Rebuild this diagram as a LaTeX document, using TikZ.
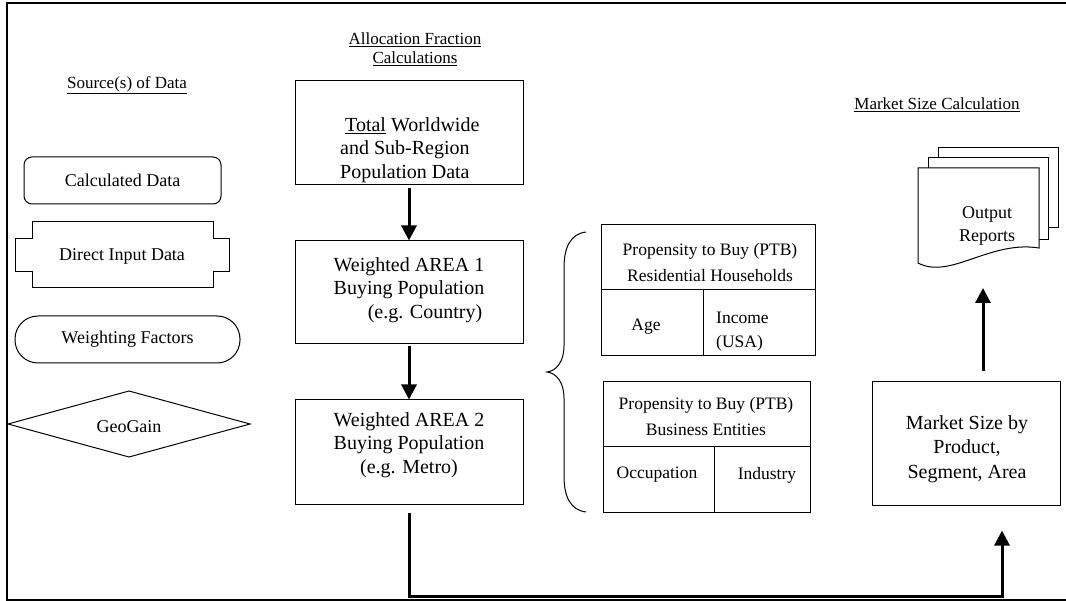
\documentclass[tikz,border=0pt]{standalone}
\usepackage{fontspec}
\setmainfont{Liberation Serif}
\usetikzlibrary{arrows.meta}
\begin{document}
\begin{tikzpicture}[x=1pt,y=-1pt,
  box/.style={draw, line width=1pt, inner sep=0pt},
  shape line/.style={draw, line width=1pt},
  txt/.style={inner sep=0pt, align=center},
  big/.style={font=\fontsize{20}{23.5}\selectfont},
  mid/.style={font=\fontsize{18}{23}\selectfont},
  ptbfont/.style={font=\fontsize{17.5}{26}\selectfont},
  hdr/.style={inner sep=0pt, align=center, font=\fontsize{17}{19}\selectfont},
  arr/.style={line width=3pt, line join=miter, -{Triangle[width=15pt,length=15pt]}}
]
\useasboundingbox (0,0) rectangle (1066,601);

% outer frame, open on the right
\draw[line width=2pt] (1066,3) -- (7,3) -- (7,600) -- (1066,600);

% column headers
\node[hdr] (hsrc) at (127,85) {\underline{Source(s) of Data}};
\node[hdr] (halloc) at (415,49) {\underline{Allocation Fraction}\\\underline{Calculations}};
\node[hdr] (hmarket) at (937,105) {\underline{Market Size Calculation}};

% legend of data sources
\node[box, rounded corners=8pt, minimum width=197pt, minimum height=47pt, mid] (calc) at (122.5,180.5) {Calculated Data};
\draw[line width=1pt] (32,222) -- (213,222) -- (213,239) -- (229,239) -- (229,272) -- (213,272)
  -- (213,288) -- (32,288) -- (32,272) -- (15,272) -- (15,239) -- (32,239) -- cycle;
\node[txt, mid] (direct) at (122,256) {Direct Input Data};
\node[box, rounded corners=23pt, minimum width=225pt, minimum height=47pt, mid] (weight) at (127.5,339.5) {Weighting Factors};
\draw[line width=1pt] (8,424) -- (129,391) -- (250,424) -- (129,457) -- cycle;
\node[txt, mid] (geo) at (129,427) {GeoGain};

% allocation fraction column
\node[box, minimum width=228pt, minimum height=104pt] (total) at (409,133) {};
\node[txt, big, anchor=west, align=left] (totaltxt) at (340,150) {\ \underline{Total} Worldwide\\and Sub-Region\\Population Data};

\node[box, minimum width=228pt, minimum height=103pt] (area1) at (409,292.5) {};
\node[txt, big] (area1txt) at (409,290) {Weighted AREA 1\\Buying Population\\\hspace*{1.6em}(e.g. Country)};

\node[box, minimum width=228pt, minimum height=104pt] (area2) at (409,452) {};
\node[txt, big] (area2txt) at (409,445) {Weighted AREA 2\\Buying Population\\(e.g. Metro)};

\draw[arr] ([yshift=-3pt]total.south) -- (area1.north);
\draw[arr] ([yshift=-2pt]area1.south) -- (area2.north);

% brace grouping the propensity tables
\draw[line width=1pt] (586,232) .. controls (570,234) and (564,248) .. (564,268) -- (564,346)
  .. controls (564,362) and (556,371) .. (547,372)
  .. controls (556,373) and (564,382) .. (564,398) -- (564,476)
  .. controls (564,496) and (570,510) .. (586,512);

% propensity to buy: residential households
\node[box, minimum width=214pt, minimum height=131pt] (ptbres) at (708,290.5) {};
\draw[line width=1pt] (601,290) -- (815,290);
\draw[line width=1pt] (703,290) -- (703,356);
\node[txt, ptbfont] (ptbrestxt) at (710,262.5) {Propensity to Buy (PTB)\\Residential Households};
\node[txt, ptbfont] (age) at (646,327) {Age};
\node[txt, ptbfont, anchor=west, align=left, font=\fontsize{17.5}{24}\selectfont] (income) at (716,332) {Income\\(USA)};

% propensity to buy: business entities
\node[box, minimum width=207pt, minimum height=130pt] (ptbbus) at (706.5,447) {};
\draw[line width=1pt] (603,447) -- (810,447);
\draw[line width=1pt] (714,447) -- (714,512);
\node[txt, ptbfont] (ptbbustxt) at (706,417) {Propensity to Buy (PTB)\\Business Entities};
\node[txt, ptbfont] (occ) at (657,475) {Occupation};
\node[txt, ptbfont] (ind) at (767,475) {Industry};

% market size and reports
\node[box, minimum width=188pt, minimum height=123pt] (market) at (966,443.5) {};
\node[txt, big, font=\fontsize{20}{24.5}\selectfont] (markettxt) at (967,449) {Market Size by\\Product,\\Segment, Area};

% stacked output report pages
\draw[line width=1pt, fill=white] (938,158) -- (938,148) -- (1058,148) -- (1058,228) -- (1048,228);
\draw[line width=1pt, fill=white] (928,168) -- (928,158) -- (1048,158) -- (1048,240) -- (1039,240);
\draw[line width=1pt, fill=white] (918,168) -- (1039,168) -- (1039,248)
  .. controls (990,240) and (950,280) .. (918,263) -- cycle;
\node[txt, mid] (output) at (987,225.5) {Output\\Reports};

\coordinate (outtip) at (983,288);
\draw[arr] ([yshift=10pt]market.north -| outtip) -- (outtip);

\coordinate (corner) at (1002,596);
\draw[arr] ([yshift=-8pt]area2.south) |- (corner) -- ([yshift=-25pt]market.south -| corner);
\end{tikzpicture}
\end{document}
